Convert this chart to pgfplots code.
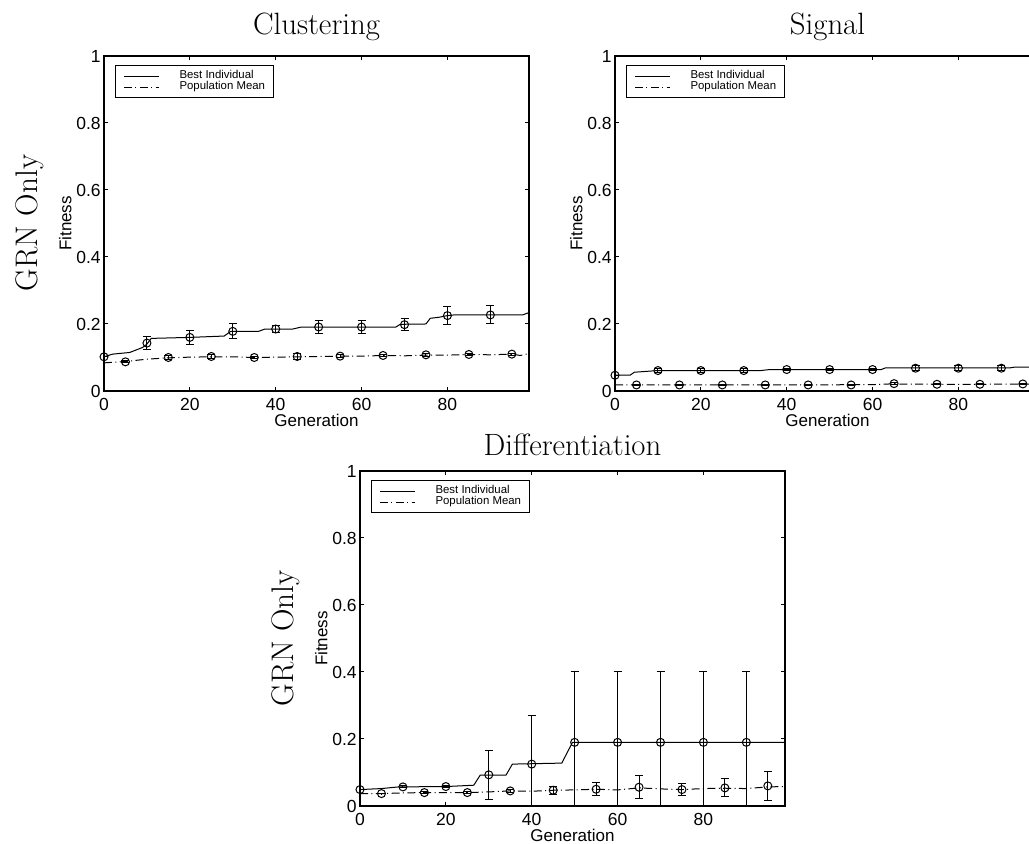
\documentclass[border=0pt]{standalone}
\usepackage{fontspec}
\usepackage{pgfplots}
\pgfplotsset{compat=1.18}
\newfontfamily\arial{Liberation Sans}

\pgfplotsset{
  grnaxis/.style={
    scale only axis, width=212.5pt, height=167.5pt,
    xmin=0, xmax=99, ymin=0, ymax=1,
    xtick={0,20,40,60,80}, xticklabels={0,20,40,60,80},
    ytick={0,0.2,0.4,0.6,0.8,1}, yticklabels={0,0.2,0.4,0.6,0.8,1},
    tick align=inside, major tick length=2.2pt,
    axis line style={line width=0.6pt},
    every tick/.style={black, line width=0.5pt},
    tick label style={font=\arial\fontsize{8.75}{10}\selectfont},
    xticklabel style={inner sep=0pt, anchor=north, yshift=-3.5pt},
    yticklabel style={inner sep=0pt, anchor=east, xshift=-1.5pt},
    xlabel={Generation}, ylabel={Fitness},
    label style={font=\arial\fontsize{8.5}{10}\selectfont, inner sep=0pt},
    xlabel style={at={(axis description cs:0.5,-0.0687)}, anchor=north},
    ylabel style={at={(axis description cs:-0.0753,0.5)}, anchor=south},
    title style={font=\fontsize{15.4}{18}\selectfont, inner sep=0pt, anchor=base, at={(axis description cs:0.5,1)}, yshift=4.5pt},
    legend cell align=left,
    legend style={at={(axis description cs:0.026,0.973)}, anchor=north west,
      draw=black, line width=0.5pt, inner xsep=4pt, inner ysep=2.5pt,
      row sep=0pt, column sep=0pt,
      font=\arial\fontsize{5.7}{6.5}\selectfont,
      nodes={inner sep=0pt, text height=4.1pt, text depth=1.4pt},
      /tikz/every odd column/.append style={column sep=10pt}},
    legend image code/.code={\draw[#1] (0pt,0pt) -- (17.5pt,0pt);},
  },
  bestline/.style={black, line width=0.5pt, solid, mark=none},
  popline/.style={black, line width=0.5pt, mark=none, dash pattern=on 4pt off 1.7pt on 0.5pt off 1.7pt},
  marks/.style={black, only marks, mark=o, mark size=2pt, line width=0.5pt, mark options={solid, fill=none}, forget plot,
    error bars/.cd, y dir=both, y explicit, error mark=|,
    error bar style={line width=0.5pt, black, solid},
    error mark options={black, mark size=2pt, line width=0.5pt}},
}

\begin{document}
\begin{tikzpicture}

% ---------------- Clustering ----------------
\begin{axis}[grnaxis, at={(52pt,226.5pt)}, anchor=south west, title={Clustering}]
\addplot[bestline] table {
x y
0 0.102
2 0.110
6 0.115
9 0.130
10 0.140
11 0.157
20 0.160
28 0.164
29.5 0.178
36 0.178
37.5 0.185
44 0.185
46 0.191
68 0.191
69 0.199
75 0.200
76 0.217
78 0.220
80 0.225
81.5 0.227
97.5 0.227
99 0.234
};
\addlegendentry{Best Individual}
\addplot[popline] table {
x y
0 0.084
5 0.088
10 0.095
15 0.099
20 0.101
25 0.102
30 0.102
35 0.100
40 0.101
45 0.102
50 0.103
55 0.104
60 0.104
65 0.106
70 0.105
75 0.107
80 0.107
85 0.109
90 0.108
95 0.110
97 0.106
99 0.112
};
\addlegendentry{Population Mean}
\addplot[marks] table[x=x, y=y, y error=e] {
x y e
0 0.102 0
10 0.143 0.020
20 0.160 0.020
30 0.178 0.022
40 0.185 0.011
50 0.191 0.019
60 0.191 0.019
70 0.198 0.018
80 0.225 0.028
90 0.227 0.027
};
\addplot[marks] table[x=x, y=y, y error=e] {
x y e
5 0.087 0.003
15 0.100 0.007
25 0.103 0.006
35 0.100 0.004
45 0.103 0.010
55 0.104 0.004
65 0.106 0.003
75 0.108 0.004
85 0.109 0.004
95 0.110 0.003
};
\end{axis}

% ---------------- Signal ----------------
\begin{axis}[grnaxis, at={(307.5pt,226.5pt)}, anchor=south west, title={Signal}]
\addplot[bestline] table {
x y
0 0.047
3.5 0.047
4.5 0.056
10 0.061
34 0.061
36 0.064
62 0.064
63 0.069
92 0.069
93 0.071
99 0.071
};
\addlegendentry{Best Individual}
\addplot[popline] table {
x y
0 0.018
20 0.018
40 0.018
60 0.019
64 0.021
75 0.020
85 0.020
99 0.021
};
\addlegendentry{Population Mean}
\addplot[marks] table[x=x, y=y, y error=e] {
x y e
0 0.047 0
10 0.061 0.006
20 0.061 0.006
30 0.061 0.006
40 0.064 0.004
50 0.064 0.003
60 0.064 0.003
70 0.068 0.008
80 0.068 0.008
90 0.068 0.008
};
\addplot[marks] table[x=x, y=y, y error=e] {
x y e
5 0.018 0.001
15 0.018 0.001
25 0.018 0.001
35 0.018 0.001
45 0.018 0.001
55 0.018 0.001
65 0.022 0.002
75 0.020 0.001
85 0.020 0.001
95 0.021 0.001
};
\end{axis}

% ---------------- Differentiation ----------------
\begin{axis}[grnaxis, at={(180pt,19pt)}, anchor=south west, title={Differentiation},
  title style={yshift=-3pt}]
\addplot[bestline] table {
x y
0 0.049
5 0.052
9 0.057
20 0.058
26.5 0.062
28 0.092
34 0.092
35.5 0.125
47 0.128
49.5 0.190
99 0.190
};
\addlegendentry{Best Individual}
\addplot[popline] table {
x y
0 0.037
5 0.037
10 0.039
15 0.040
20 0.040
25 0.040
30 0.042
35 0.045
40 0.044
45 0.047
50 0.048
55 0.050
60 0.048
65 0.054
70 0.051
75 0.049
80 0.052
85 0.053
90 0.052
95 0.057
99 0.058
};
\addlegendentry{Population Mean}
\addplot[marks] table[x=x, y=y, y error=e] {
x y e
0 0.049 0
10 0.057 0.003
20 0.058 0.003
30 0.093 0.073
40 0.125 0.144
50 0.190 0.210
60 0.190 0.210
70 0.190 0.210
80 0.190 0.210
90 0.190 0.210
};
\addplot[marks] table[x=x, y=y, y error=e] {
x y e
5 0.037 0.001
15 0.040 0.002
25 0.040 0.002
35 0.045 0.005
45 0.047 0.012
55 0.050 0.020
65 0.056 0.034
75 0.049 0.017
85 0.054 0.027
95 0.060 0.044
};
\end{axis}

\node[rotate=90, anchor=base, inner sep=0pt, font=\fontsize{15.6}{18}\selectfont] at (18.85pt,310.5pt) {GRN Only};
\node[rotate=90, anchor=base, inner sep=0pt, font=\fontsize{15.6}{18}\selectfont] at (146.85pt,102.75pt) {GRN Only};

\pgfresetboundingbox
\useasboundingbox (0pt,0pt) rectangle (514.5pt,422pt);
\end{tikzpicture}
\end{document}
